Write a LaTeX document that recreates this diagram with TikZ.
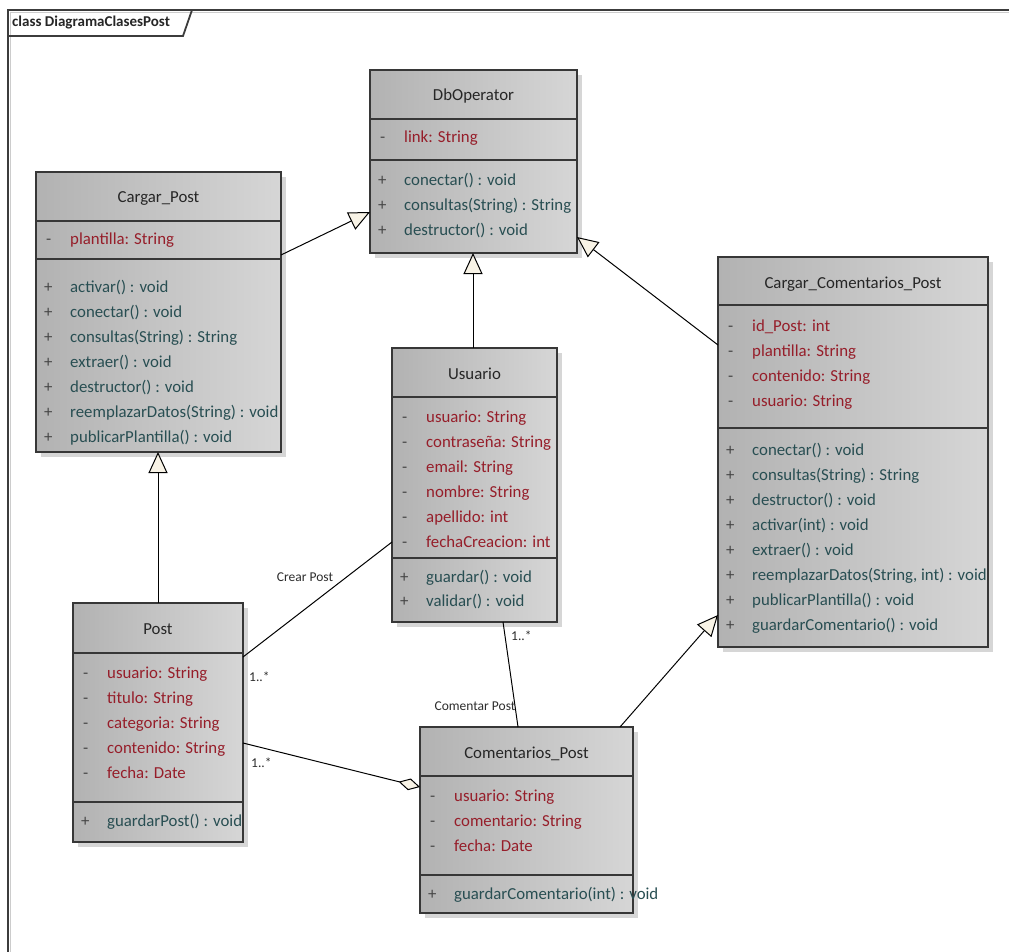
\documentclass[tikz,border=0pt]{standalone}
\usepackage{fontspec}
\setmainfont{Carlito}
\usetikzlibrary{arrows.meta,calc,shadows}

\definecolor{attrc}{RGB}{150,30,42}
\definecolor{methc}{RGB}{40,78,82}
\definecolor{visc}{RGB}{70,70,70}
\definecolor{titlec}{RGB}{38,38,38}
\definecolor{edgec}{RGB}{55,55,55}
\definecolor{fillL}{RGB}{178,178,178}
\definecolor{fillR}{RGB}{214,214,214}
\definecolor{shadc}{RGB}{214,214,214}
\definecolor{cream}{RGB}{248,243,230}
\definecolor{framec}{RGB}{60,60,60}
\definecolor{lblc}{RGB}{45,45,45}

\tikzset{
  classbox/.style={draw=edgec, line width=1.3pt, left color=fillL, right color=fillR,
    anchor=north west, inner sep=0pt, outer sep=0pt,
    drop shadow={shadow xshift=5pt, shadow yshift=-5pt, fill=shadc, opacity=1}},
  divider/.style={draw=edgec, line width=1.3pt},
  rowtxt/.style={anchor=west, inner sep=0pt, text height=11.5pt, text depth=3.5pt,
    font=\fontsize{16.8pt}{20pt}\selectfont},
  attrtxt/.style={rowtxt, text=attrc},
  methtxt/.style={rowtxt, text=methc},
  vistxt/.style={rowtxt, text=visc},
  titletxt/.style={anchor=center, inner sep=0pt, text height=11.5pt, text depth=3.5pt,
    text=titlec, font=\fontsize{16.8pt}{20pt}\selectfont},
  conn/.style={draw=black, line width=1pt},
  gen/.style={conn, -{Triangle[length=21pt,width=19pt,fill=cream]}},
  agg/.style={conn, -{Diamond[length=22pt,width=12pt,fill=cream]}},
  lbl/.style={inner sep=0pt, text=lblc, font=\fontsize{13.5pt}{15pt}\selectfont},
  framest/.style={draw=framec, line width=1.8pt},
  frameshade/.style={draw=black!20, line width=1pt},
}

% #1 class node, #2 offset from the top of the box
\newcommand\classtitle[3]{\node[titletxt] (#1-t) at ($(#1.north)+(0,#2)$) {#3};}
\newcommand\classdiv[2]{\draw[divider] ($(#1.north west)+(0,#2)$) -- ($(#1.north east)+(0,#2)$);}
\newcommand\attrrow[3]{%
  \node[vistxt] (#1-av#2) at ($(#1.north west)+(10,#2)$) {-};
  \node[attrtxt] (#1-a#2) at ($(#1.north west)+(34,#2)$) {#3};}
\newcommand\methrow[3]{%
  \node[vistxt] (#1-mv#2) at ($(#1.north west)+(8,#2)$) {+};
  \node[methtxt] (#1-m#2) at ($(#1.north west)+(34,#2)$) {#3};}

\begin{document}
\begin{tikzpicture}[x=1pt,y=-1pt]
\useasboundingbox (0,0) rectangle (1009,952);
\fill[white] (0,0) rectangle (1009,952);

% diagram frame with its name tab
\draw[frameshade] (10.5,952) -- (10.5,12.5) -- (1009,12.5);
\draw[framest] (8,952) -- (8,10) -- (1009,10);
\draw[framest] (8,36) -- (183,36) -- (192,10);
\node[inner sep=0pt, anchor=west, text=black!85, font=\bfseries\fontsize{15pt}{17pt}\selectfont]
  (ftitle) at (12,23) {class DiagramaClasesPost};

% ---------- DbOperator ----------
\node[classbox, minimum width=207pt, minimum height=183pt] (dbop) at (370,70) {};
\classtitle{dbop}{27}{DbOperator}
\classdiv{dbop}{49}
\attrrow{dbop}{69}{link: String}
\classdiv{dbop}{90}
\methrow{dbop}{112}{conectar() : void}
\methrow{dbop}{137}{consultas(String) : String}
\methrow{dbop}{162}{destructor() : void}

% ---------- Cargar_Post ----------
\node[classbox, minimum width=245pt, minimum height=280pt] (cpost) at (36,172) {};
\classtitle{cpost}{27}{Cargar\_Post}
\classdiv{cpost}{49}
\attrrow{cpost}{68}{plantilla: String}
\classdiv{cpost}{87}
\methrow{cpost}{116}{activar() : void}
\methrow{cpost}{141}{conectar() : void}
\methrow{cpost}{166}{consultas(String) : String}
\methrow{cpost}{191}{extraer() : void}
\methrow{cpost}{216}{destructor() : void}
\methrow{cpost}{241}{reemplazarDatos(String) : void}
\methrow{cpost}{266}{publicarPlantilla() : void}

% ---------- Usuario ----------
\node[classbox, minimum width=165pt, minimum height=274pt] (usr) at (392,348) {};
\classtitle{usr}{27}{Usuario}
\classdiv{usr}{49}
\attrrow{usr}{70}{usuario: String}
\attrrow{usr}{95}{contraseña: String}
\attrrow{usr}{120}{email: String}
\attrrow{usr}{145}{nombre: String}
\attrrow{usr}{170}{apellido: int}
\attrrow{usr}{195}{fechaCreacion: int}
\classdiv{usr}{210}
\methrow{usr}{230}{guardar() : void}
\methrow{usr}{254}{validar() : void}

% ---------- Cargar_Comentarios_Post ----------
\node[classbox, minimum width=270pt, minimum height=390pt] (ccp) at (718,257) {};
\classtitle{ccp}{27}{Cargar\_Comentarios\_Post}
\classdiv{ccp}{48}
\attrrow{ccp}{70}{id\_Post: int}
\attrrow{ccp}{95}{plantilla: String}
\attrrow{ccp}{120}{contenido: String}
\attrrow{ccp}{145}{usuario: String}
\classdiv{ccp}{171}
\methrow{ccp}{194}{conectar() : void}
\methrow{ccp}{219}{consultas(String) : String}
\methrow{ccp}{244}{destructor() : void}
\methrow{ccp}{269}{activar(int) : void}
\methrow{ccp}{294}{extraer() : void}
\methrow{ccp}{319}{reemplazarDatos(String, int) : void}
\methrow{ccp}{344}{publicarPlantilla() : void}
\methrow{ccp}{369}{guardarComentario() : void}

% ---------- Post ----------
\node[classbox, minimum width=170pt, minimum height=239pt] (post) at (73,603) {};
\classtitle{post}{27}{Post}
\classdiv{post}{50}
\attrrow{post}{71}{usuario: String}
\attrrow{post}{96}{titulo: String}
\attrrow{post}{121}{categoria: String}
\attrrow{post}{146}{contenido: String}
\attrrow{post}{171}{fecha: Date}
\classdiv{post}{199}
\methrow{post}{219}{guardarPost() : void}

% ---------- Comentarios_Post ----------
\node[classbox, minimum width=213pt, minimum height=186pt] (cmt) at (420,727) {};
\classtitle{cmt}{27}{Comentarios\_Post}
\classdiv{cmt}{49}
\attrrow{cmt}{70}{usuario: String}
\attrrow{cmt}{95}{comentario: String}
\attrrow{cmt}{120}{fecha: Date}
\classdiv{cmt}{148}
\methrow{cmt}{168}{guardarComentario(int) : void}

% ---------- connector end points on the class borders ----------
\coordinate (g1a) at ($(cpost.north east)+(0,83)$);
\coordinate (g1b) at ($(dbop.north west)+(0,142)$);
\coordinate (g2a) at ($(usr.north west)+(81,0)$);
\coordinate (g2b) at ($(dbop.south west)+(103,0)$);
\coordinate (g3a) at ($(ccp.north west)+(0,88)$);
\coordinate (g3b) at ($(dbop.north east)+(0,167)$);
\coordinate (g4a) at ($(post.north west)+(85,0)$);
\coordinate (g4b) at ($(cpost.south west)+(122,0)$);
\coordinate (g5a) at ($(cmt.north west)+(200,0)$);
\coordinate (g5b) at ($(ccp.north west)+(0,358)$);
\coordinate (s1a) at ($(usr.north west)+(0,194)$);
\coordinate (s1b) at ($(post.north east)+(0,54)$);
\coordinate (s2a) at ($(usr.south west)+(111,0)$);
\coordinate (s2b) at ($(cmt.north west)+(98,0)$);
\coordinate (s3a) at ($(post.north east)+(0,140)$);
\coordinate (s3b) at ($(cmt.north west)+(0,60)$);

% generalizations
\draw[gen] (g1a) -- (g1b);
\draw[gen] (g2a) -- (g2b);
\draw[gen] (g3a) -- (g3b);
\draw[gen] (g4a) -- (g4b);
\draw[gen] (g5a) -- (g5b);

% associations
\draw[conn] (s1a) -- (s1b);
\draw[conn] (s2a) -- (s2b);
\draw[agg] (s3a) -- (s3b);

% association labels and multiplicities
\node[lbl] (l-crear) at (305,577) {Crear Post};
\node[lbl, anchor=west] (l-m1) at (249,677) {1..*};
\node[lbl] (l-coment) at (475,706) {Comentar Post};
\node[lbl, anchor=west] (l-m2) at (511,636) {1..*};
\node[lbl, anchor=west] (l-m3) at (251,763) {1..*};
\end{tikzpicture}
\end{document}
